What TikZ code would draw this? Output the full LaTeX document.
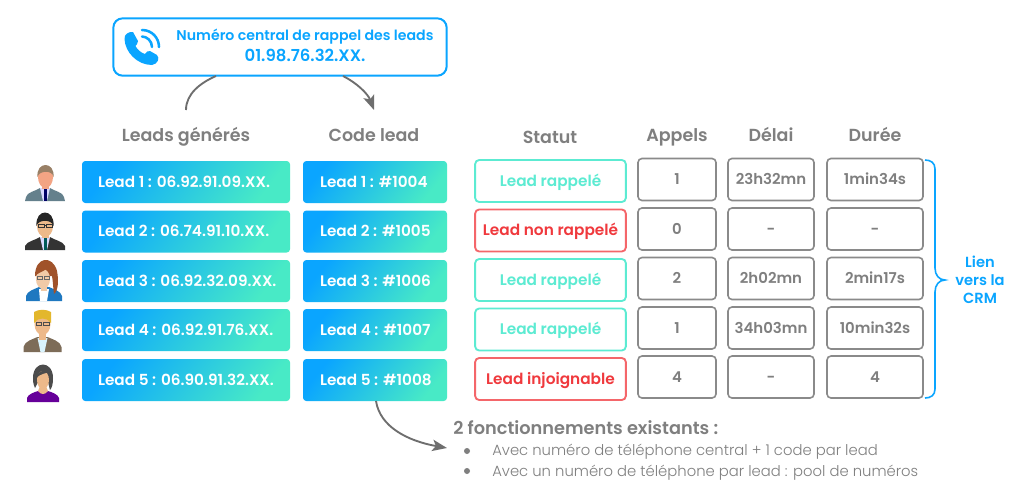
\documentclass[tikz,border=0pt]{standalone}
\usepackage{fontspec}
\setmainfont{Poppins}
\newfontfamily\fsb{Poppins SemiBold}
\newfontfamily\flt{Poppins Light}
\usetikzlibrary{arrows.meta}
\definecolor{blueA}{HTML}{0AA5FF}
\definecolor{tealA}{HTML}{48EAC6}
\definecolor{greyT}{HTML}{7F7F7F}
\definecolor{greyB}{HTML}{8A8A8A}
\definecolor{greenS}{HTML}{5CEBD2}
\definecolor{redS}{HTML}{F4666A}
\definecolor{redT}{HTML}{F0393D}
\definecolor{arrowG}{HTML}{6E6E6E}
\definecolor{skin}{HTML}{EDB98A}
\definecolor{suitA}{HTML}{64808C}
\definecolor{jackB}{HTML}{1F78C0}
\definecolor{jackC}{HTML}{7D6C58}
\definecolor{hairC}{HTML}{E3B72C}
\definecolor{hairR}{HTML}{A0522A}
\tikzset{
 x=0.75pt,y=-0.75pt,
 grad/.style={rounded corners=2.5pt,inner ysep=0,minimum height=31.5pt,text=white,font=\fsb\fontsize{11.45}{12}\selectfont,
   text height=8pt,text depth=0pt,left color=blueA,right color=tealA,shading angle=52},
 leadbox/.style={grad,inner xsep=12pt},
 codebox/.style={grad,inner xsep=12.75pt},
 statbox/.style={rounded corners=3pt,inner sep=0,minimum width=113pt,minimum height=31.5pt,line width=1.4pt,text height=8pt,text depth=0pt,font=\fsb\fontsize{11.5}{12}\selectfont},
 okbox/.style={statbox,draw=greenS,text=greenS},
 badbox/.style={statbox,draw=redS,text=redT},
 cellbox/.style={rounded corners=3pt,inner sep=0,minimum height=31.5pt,draw=greyB,line width=1.2pt,text=greyT,text height=8pt,text depth=0pt,font=\fsb\fontsize{11.2}{12}\selectfont},
 hdr/.style={inner sep=0,text=greyT,text height=9pt,text depth=0pt,font=\fsb\fontsize{13.1}{14}\selectfont},
 curve/.style={draw=arrowG,line width=1.4pt},
 tip/.style={-{Stealth[length=11pt,width=8.5pt,inset=2.5pt]}},
 lbl/.style={inner sep=0,anchor=west,text=greyT,font=\flt\fontsize{11.1}{12}\selectfont},
 dot/.style={circle,fill=greyT,inner sep=0,minimum size=4.5pt},
}
\begin{document}
\begin{tikzpicture}
\useasboundingbox (0,0) rectangle (1024,494);
\fill[white] (0,0) rectangle (1024,494);
% top box
\node[draw=blueA,line width=1.5pt,rounded corners=7pt,inner sep=0,minimum width=250pt,minimum height=43pt] (top) at (280,47) {};
\node[inner sep=0,text=blueA,font=\fsb\fontsize{10.6}{12}\selectfont] (topa) at (305,37) {Numéro central de rappel des leads};
\node[inner sep=0,text=blueA,font=\fsb\fontsize{12.4}{14}\selectfont] (topb) at (305,55.5) {01.98.76.32.XX.};
% phone icon
\begin{scope}[blueA]
\fill (124.5,39) .. controls (124,34) and (129,31.5) .. (133,32) -- (138,41) .. controls (138,44) and (136,45) .. (135.5,46)
 .. controls (137,49) and (141,53) .. (145,54) .. controls (146,52) and (148,50.5) .. (150,51) -- (157,55) .. controls (160,58) and (158,64) .. (152,65)
 .. controls (137,65) and (125,52) .. (124.5,39) -- cycle;
\draw[line width=1.9pt,line cap=round] (142,36.5) .. controls (147,36.5) and (152,41) .. (152,47);
\draw[line width=1.9pt,line cap=round] (142,30) .. controls (152,30) and (159,38) .. (159,47);
\end{scope}
% curved arrows
\coordinate (ca) at (216,76); \coordinate (cb) at (186,110);
\coordinate (cc) at (343,76); \coordinate (cd) at (374,110);
\coordinate (ce) at (376,401); \coordinate (cf) at (447,448);
\draw[curve] (ca) .. controls (200,83) and (186,94) .. (cb);
\draw[curve,tip] (cc) .. controls (357,83) and (368,94) .. (cd);
% headers
\node[hdr] (h1) at (186,135) {Leads générés};
\node[hdr] (h2) at (374,135) {Code lead};
\node[hdr] (h3) at (550,137.5) {Statut};
\node[hdr] (h4) at (677,135.5) {Appels};
\node[hdr] (h5) at (771,135.5) {Délai};
\node[hdr] (h6) at (875,135.5) {Durée};
% columns
\foreach \i/\y/\t in {1/182/06.92.91.09.XX.,2/231.5/06.74.91.10.XX.,3/281/06.92.32.09.XX.,4/330/06.92.91.76.XX.,5/380/06.90.91.32.XX.}
  \node[leadbox] (l\i) at (186,\y) {\makebox[132pt][l]{Lead \i{} : \t}};
\foreach \i/\y/\t in {1/182/1004,2/231.5/1005,3/281/1006,4/330/1007,5/380/1008}
  \node[codebox] (c\i) at (375,\y) {\makebox[82.5pt][l]{Lead \i{} : \#\t}};
\foreach \i/\y/\s/\t in {1/181/okbox/Lead rappelé,2/230.5/badbox/Lead non rappelé,3/280/okbox/Lead rappelé,4/329.5/okbox/Lead rappelé,5/379/badbox/Lead injoignable}
  \node[\s] (s\i) at (550.5,\y) {\t};
\foreach \i/\y/\a/\d/\u in {1/179.5/1/23h32mn/1min34s,2/229/0/-/-,3/278.5/2/2h02mn/2min17s,4/328/1/34h03mn/10min32s,5/377/4/-/4}{
  \node[cellbox,minimum width=58.5pt] (a\i) at (677,\y) {\a};
  \node[cellbox,minimum width=64.5pt] (d\i) at (771,\y) {\d};
  \node[cellbox,minimum width=72pt] (u\i) at (875,\y) {\u};
}
% brace
\coordinate (ba) at (925,160); \coordinate (bb) at (945,280); \coordinate (bc) at (925,398);
\draw[blueA,line width=1.2pt] (ba) .. controls (931,160) and (935,163) .. (935,169) -- (935,268) .. controls (935,275) and (939,280) .. (bb)
  .. controls (939,280) and (935,285) .. (935,292) -- (935,389) .. controls (935,395) and (931,398) .. (bc);
\node[inner sep=0,align=center,text=blueA,font=\fsb\fontsize{11}{13.4}\selectfont] (crm) at (980,280) {Lien\\vers la\\CRM};
% bottom
\draw[curve,tip] (ce) .. controls (380,427) and (408,441) .. (cf);
\node[inner sep=0,anchor=west,text=greyT,font=\fsb\fontsize{13.3}{14}\selectfont] (t0) at (453,428) {2 fonctionnements existants :};
\node[dot] (b1) at (467,451) {}; \node[dot] (b2) at (467,471) {};
\node[lbl] (t1) at (492,451.5) {Avec numéro de téléphone central + 1 code par lead};
\node[lbl] (t2) at (492,472.5) {Avec un numéro de téléphone par lead : pool de numéros};
% avatars
\begin{scope}[shift={(45,201)}]
\fill[suitA] (-20,0) -- (-19,-4) .. controls (-18,-9) and (-9,-10) .. (-5,-13) -- (5,-13) .. controls (9,-10) and (18,-9) .. (19,-4) -- (20,0) -- cycle;
\fill[white!85!blue] (-5,-13) -- (5,-13) -- (2,0) -- (-2,0) -- cycle;
\fill[skin!80!red!85!white] (-3.5,-18) rectangle (3.5,-12);
\fill[skin!80!red!85!white] (0.5,-24) ellipse [x radius=7.5,y radius=11];
\fill[gray!60!brown] (-7.5,-24) .. controls (-9,-40) and (10,-40) .. (8.5,-24) .. controls (8,-31) and (-6,-31) .. (-7.5,-24) -- cycle;
\fill[blue!40!black] (-1.5,-12) -- (1.5,-12) -- (1.5,0) -- (-1.5,0) -- cycle;
\end{scope}
\begin{scope}[shift={(45,250)}]
\fill[black!80] (-20,0) -- (-20,-4) .. controls (-18,-9) and (-9,-10) .. (-5,-13) -- (5,-13) .. controls (9,-10) and (18,-9) .. (20,-4) -- (20,0) -- cycle;
\fill[white!85!blue] (-5,-13) -- (5,-13) -- (2,0) -- (-2,0) -- cycle;
\fill[skin] (-3.5,-18) rectangle (3.5,-12);
\fill[skin] (0,-24) ellipse [x radius=8,y radius=11];
\fill[black!85] (-8.5,-24) .. controls (-10,-42) and (10,-42) .. (8.5,-24) .. controls (7,-31) and (-7,-31) .. (-8.5,-24) -- cycle;
\fill[teal!70!black] (-1.5,-12) -- (1.5,-12) -- (1.5,0) -- (-1.5,0) -- cycle;
\draw[black!80,line width=.7pt] (-7,-26) rectangle (-1,-22.5) (1,-26) rectangle (7,-22.5) (-1,-25) -- (1,-25);
\end{scope}
\begin{scope}[shift={(44,301)}]
\fill[jackB] (-18,0) -- (-18,-5) .. controls (-17,-10) and (-9,-12) .. (-5,-14) -- (5,-14) .. controls (9,-12) and (17,-10) .. (18,-5) -- (18,0) -- cycle;
\fill[white] (-5,-12) -- (5,-12) -- (3,0) -- (-4,0) -- cycle;
\fill[skin!75!white] (-3,-16) rectangle (3,-10);
\fill[hairR] (-9,-25) .. controls (-9,-45) and (9,-46) .. (13,-30) .. controls (15,-20) and (14,-10) .. (10,-7) .. controls (9,-14) and (9,-20) .. (8,-25) -- cycle;
\fill[skin!75!white] (-1,-22) ellipse [x radius=7,y radius=10];
\fill[hairR] (-8,-26) .. controls (-8,-36) and (2,-38) .. (6,-34) .. controls (2,-31) and (-4,-29) .. (-8,-26) -- cycle;
\draw[black!60,line width=.6pt] (-7,-25) rectangle (-2,-22) (0,-25) rectangle (5,-22);
\end{scope}
\begin{scope}[shift={(42.5,352)}]
\fill[jackC] (-19,0) -- (-19,-5) .. controls (-18,-11) and (-9,-13) .. (-5,-15) -- (5,-15) .. controls (9,-13) and (18,-11) .. (19,-5) -- (19,0) -- cycle;
\fill[cyan!15] (-5,-14) -- (5,-14) -- (2,0) -- (-2,0) -- cycle;
\fill[skin] (-3.5,-20) rectangle (3.5,-12);
\fill[skin] (0,-28) ellipse [x radius=8,y radius=11];
\fill[hairC] (-8.5,-29) -- (-8.5,-40) .. controls (-4,-43) and (4,-43) .. (8.5,-40) -- (8.5,-29) .. controls (5,-35) and (-5,-35) .. (-8.5,-29) -- cycle;
\draw[black!70,line width=.6pt] (-6.5,-30) rectangle (-1,-27) (1,-30) rectangle (6.5,-27);
\end{scope}
\begin{scope}[shift={(43,402)}]
\fill[violet!80!blue] (-16,0) -- (-16,-4) .. controls (-15,-8) and (-8,-10) .. (-5,-11) .. controls (-2,-8) and (2,-8) .. (5,-11) .. controls (8,-10) and (15,-8) .. (16,-4) -- (16,0) -- cycle;
\fill[skin] (-5,-11) .. controls (-2,-7) and (2,-7) .. (5,-11) -- (3,-16) -- (-3,-16) -- cycle;
\fill[black!70] (-10,-24) .. controls (-10,-42) and (10,-42) .. (10,-24) .. controls (10,-18) and (9,-14) .. (7,-12) -- (5,-20) -- (-5,-20) -- (-8,-14) .. controls (-10,-18) and (-10,-22) .. (-10,-24) -- cycle;
\fill[skin] (0,-22) ellipse [x radius=6,y radius=9];
\fill[black!70] (-7,-24) .. controls (-5,-32) and (3,-33) .. (7,-30) .. controls (3,-29) and (-3,-28) .. (-7,-24) -- cycle;
\end{scope}
\end{tikzpicture}
\end{document}
